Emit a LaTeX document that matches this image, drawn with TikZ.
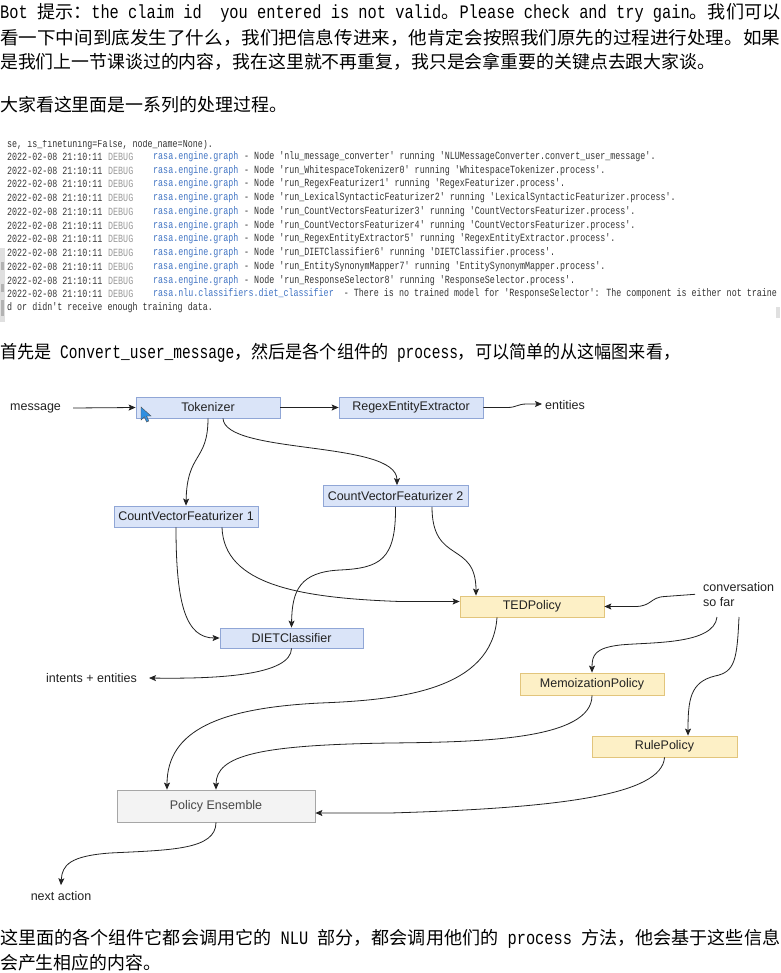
\documentclass[tikz,border=0pt]{standalone}
\usepackage{fontspec}
\usepackage{graphicx}
\setmainfont{Liberation Sans}
\newfontfamily\cjk{Noto Sans CJK SC}
\newfontfamily\latf{Liberation Mono}
\newfontfamily\logf{Liberation Mono}
\newfontfamily\dgf{Liberation Sans}
\usetikzlibrary{arrows.meta,calc}
\definecolor{bfill}{HTML}{DAE4F8}
\definecolor{bdraw}{HTML}{90A6D6}
\definecolor{yfill}{HTML}{FDF0C6}
\definecolor{ydraw}{HTML}{E2C57C}
\definecolor{gfill}{HTML}{F3F3F3}
\definecolor{gdraw}{HTML}{A6A6A6}
\definecolor{ldate}{HTML}{3A3A3A}
\definecolor{ldbg}{HTML}{9A9A9A}
\definecolor{lblue}{HTML}{4275C4}
\definecolor{lmsg}{HTML}{333333}
\definecolor{ink}{HTML}{222222}
\definecolor{cursorblue}{HTML}{2F8FE0}
\newcommand\q{\textquotesingle}
\newcommand\lt[1]{\scalebox{0.8}[1]{\latf\fontsize{19}{20}\selectfont #1}}
\newcommand\cj{\cjk\fontsize{17.9}{20}\selectfont}
\newcommand\lgt[1]{\scalebox{0.76}[1]{\logf\fontsize{11}{12}\selectfont #1}}
\newcommand\logline[3]{%
  \node[lg,text=ldate] (d#1) at (7,#2) {\lgt{2022-02-08 21:10:11}};
  \node[lg,text=ldbg] (g#1) at (108,#2) {\lgt{DEBUG}};
  \node[lg,text=lblue] (l#1) at (153,#2) {\lgt{rasa.engine.graph}};
  \node[lg,text=lmsg] (m#1) at (244,#2) {\lgt{#3}};}
\tikzset{
  para/.style={anchor=west,inner sep=0pt,text=black},
  lg/.style={anchor=west,inner sep=0pt},
  box/.style={draw,line width=0.8pt,minimum height=21pt,minimum width=144pt,inner sep=0pt,
    font=\dgf\fontsize{12.5}{14}\selectfont,text=ink},
  bbox/.style={box,fill=bfill,draw=bdraw},
  ybox/.style={box,fill=yfill,draw=ydraw},
  gbox/.style={box,fill=gfill,draw=gdraw,text=black!72},
  lbl/.style={inner sep=0pt,font=\dgf\fontsize{12.5}{15}\selectfont,text=ink},
  arr/.style={-{Stealth[length=7pt,width=6pt,inset=1.5pt]},line width=0.8pt,draw=ink}
}
\begin{document}
\begin{tikzpicture}[x=1pt,y=-1pt]
\useasboundingbox (0,0) rectangle (780,973);
\fill[white] (0,0) rectangle (780,973);

% ---------- paragraph text ----------
\node[para] (p1) at (0,13) {\resizebox{780pt}{\height}{\cj \lt{Bot\ }提示：\lt{the claim id\ \ you entered is not valid}。\lt{Please check and try gain}。我们可以}};
\node[para] (p2) at (0,38) {\resizebox{780pt}{\height}{\cj 看一下中间到底发生了什么，我们把信息传进来，他肯定会按照我们原先的过程进行处理。如果}};
\node[para] (p3) at (0,62) {\resizebox{715pt}{\height}{\cj 是我们上一节课谈过的内容，我在这里就不再重复，我只是会拿重要的关键点去跟大家谈。}};
\node[para] (p4) at (0,105) {\resizebox{287pt}{\height}{\cj 大家看这里面是一系列的处理过程。}};
\node[para] (p5) at (0,353) {\resizebox{680pt}{\height}{\cj 首先是\lt{ Convert\_user\_message}，然后是各个组件的\lt{ process}，可以简单的从这幅图来看，}};
\node[para] (p6) at (0,939) {\resizebox{780pt}{\height}{\cj 这里面的各个组件它都会调用它的\lt{ NLU }部分，都会调用他们的\lt{ process }方法，他会基于这些信息}};
\node[para] (p7) at (0,963) {\resizebox{161pt}{\height}{\cj 会产生相应的内容。}};

% ---------- log screenshot ----------
\begin{scope}
\clip (0,140.5) rectangle (780,160);
\node[lg,text=lmsg] (m0) at (7,144.5) {\lgt{se, is\_finetuning=False, node\_name=None).}};
\end{scope}
\logline{1}{157}{- Node \q nlu\_message\_converter\q{} running \q NLUMessageConverter.convert\_user\_message\q.}
\logline{2}{171}{- Node \q run\_WhitespaceTokenizer0\q{} running \q WhitespaceTokenizer.process\q.}
\logline{3}{184}{- Node \q run\_RegexFeaturizer1\q{} running \q RegexFeaturizer.process\q.}
\logline{4}{198}{- Node \q run\_LexicalSyntacticFeaturizer2\q{} running \q LexicalSyntacticFeaturizer.process\q.}
\logline{5}{212}{- Node \q run\_CountVectorsFeaturizer3\q{} running \q CountVectorsFeaturizer.process\q.}
\logline{6}{226}{- Node \q run\_CountVectorsFeaturizer4\q{} running \q CountVectorsFeaturizer.process\q.}
\logline{7}{239}{- Node \q run\_RegexEntityExtractor5\q{} running \q RegexEntityExtractor.process\q.}
\logline{8}{253}{- Node \q run\_DIETClassifier6\q{} running \q DIETClassifier.process\q.}
\logline{9}{267}{- Node \q run\_EntitySynonymMapper7\q{} running \q EntitySynonymMapper.process\q.}
\logline{10}{281}{- Node \q run\_ResponseSelector8\q{} running \q ResponseSelector.process\q.}
\node[lg,text=ldate] (d11) at (7,294) {\lgt{2022-02-08 21:10:11}};
\node[lg,text=ldbg] (g11) at (108,294) {\lgt{DEBUG}};
\node[lg,text=lmsg] (m11) at (153,294) {\lgt{{\color{lblue}rasa.nlu.classifiers.diet\_classifier}\ \ - There is no trained model for \q ResponseSelector\q: The component is either not traine}};
\node[lg,text=lmsg] (m12) at (7,308) {\lgt{d or didn\q t receive enough training data.}};
\fill[black!12] (0,248) rectangle (5,322);
\fill[black!30] (1,262) rectangle (4,270);
\fill[black!30] (1,284) rectangle (4,292);
\fill[black!30] (1,300) rectangle (4,316);
\fill[black!12] (776,307) rectangle (780,318);

% ---------- diagram ----------
\node[bbox] (tok) at (208,407.5) {Tokenizer};
\node[bbox] (rex) at (411,407.5) {RegexEntityExtractor};
\node[bbox] (cv1) at (186,516.5) {CountVectorFeaturizer 1};
\node[bbox,minimum width=145pt] (cv2) at (395.5,496) {CountVectorFeaturizer 2};
\node[bbox,minimum width=143pt,minimum height=20pt] (diet) at (291.5,638) {DIETClassifier};
\node[ybox] (ted) at (532,606.5) {TEDPolicy};
\node[ybox,minimum height=22pt] (memo) at (592,684) {MemoizationPolicy};
\node[ybox,minimum width=145pt] (rule) at (664.5,746.5) {RulePolicy};
\node[gbox,minimum width=198pt,minimum height=32pt] (pe) at (216,806) {Policy Ensemble};

\node[lbl,anchor=west] (msg) at (10,408) {message};
\node[lbl,anchor=west] (ent) at (545,405.5) {entities};
\node[lbl,anchor=east] (ints) at (137,678) {intents + entities};
\node[lbl,anchor=north west,align=left] (conv) at (703,582) {conversation\\so far};
\node[lbl] (nxt) at (61,896) {next action};
\coordinate (cvb) at (717,617);
\coordinate (cvc) at (739,617);

% mouse cursor
\filldraw[fill=cursorblue,draw=black!70,line width=0.4pt]
  (141,407) -- (141,420) -- (144.3,416.8) -- (146.6,422) -- (148.8,421) -- (146.6,416) -- (151,416) -- cycle;

\draw[arr] ([xshift=12pt]msg.east) -- (tok.west);
\draw[arr] (tok.east) -- (rex.west);
\draw[arr] (rex.east) -- (507,407.5) .. controls (517,407.5) and (517,404) .. (527,404) -- ([xshift=-3pt,yshift=1.5pt]ent.west);
\draw[arr] (tok.south) .. controls (208,462) and (187,452) .. (cv1.north);
\draw[arr] ([xshift=15pt]tok.south) .. controls (225,455) and (397,440) .. ([xshift=1.5pt]cv2.north);
\draw[arr] (cv2.south) .. controls (396,560) and (380,568) .. (340,570) .. controls (300,572) and (292,590) .. (diet.north);
\draw[arr] ([xshift=-10pt]cv1.south) .. controls (176,605) and (186,638) .. (diet.west);
\draw[arr] ([xshift=36pt]cv1.south) .. controls (224,585) and (300,598) .. (400,601.5) -- ([yshift=5pt]ted.west);
\draw[arr] ([xshift=36.5pt]cv2.south) .. controls (432,565) and (476,540) .. ([xshift=-56pt]ted.north);
\draw[arr] ([xshift=-8pt]conv.west) -- (665,596.5) .. controls (650,597) and (652,606.5) .. (635,606.5) -- (ted.east);
\draw[arr] (cvb) .. controls (714,645) and (650,642) .. (620,645) .. controls (595,648) and (592,655) .. (memo.north);
\draw[arr] (cvc) .. controls (737,660) and (735,672) .. (715,676) .. controls (690,682) and (688,700) .. ([xshift=23.5pt]rule.north);
\draw[arr] (diet.south) .. controls (291,675) and (220,679) .. ([xshift=12pt]ints.east);
\draw[arr] ([xshift=-35pt]ted.south) .. controls (492,690) and (400,700) .. (320,703) .. controls (220,708) and (167,730) .. ([xshift=-49pt]pe.north);
\draw[arr] (memo.south) .. controls (592,740) and (480,742) .. (390,743) .. controls (260,745) and (216,755) .. (pe.north);
\draw[arr] (rule.south) .. controls (662,795) and (560,808) .. (390,813) -- ([yshift=-7pt]pe.east);
\draw[arr] (pe.south) .. controls (216,850) and (170,850) .. (110,853) .. controls (70,856) and (62,865) .. ([yshift=6pt]nxt.north);
\end{tikzpicture}
\end{document}
